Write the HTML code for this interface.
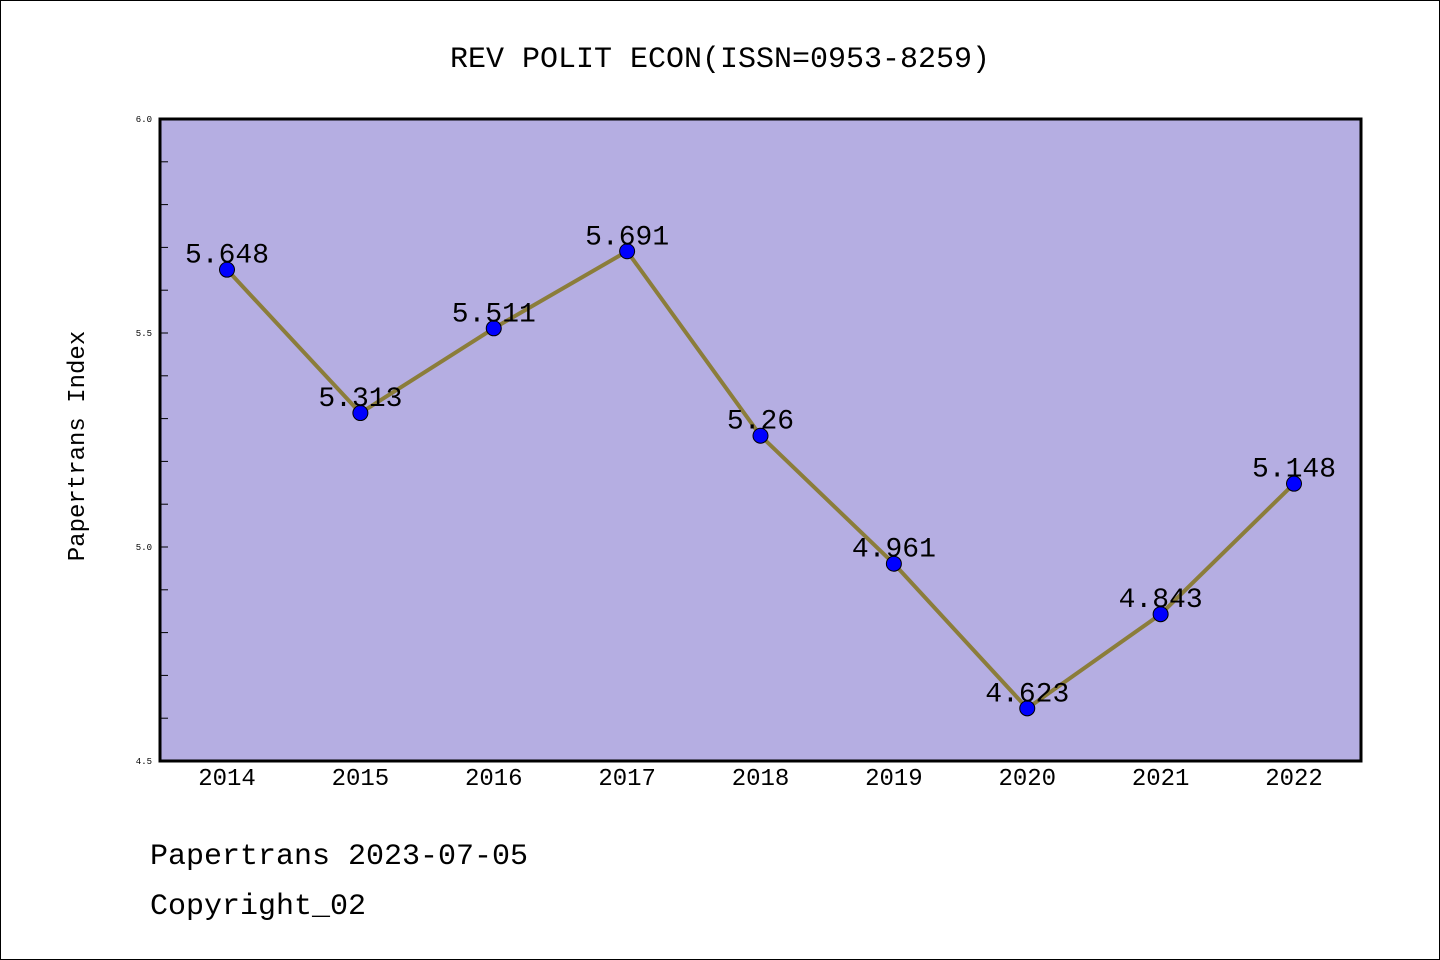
<!DOCTYPE html>
<html><head><meta charset="utf-8"><style>
body{margin:0;background:#fff;}
svg{display:block;font-family:"WenQuanYi Zen Hei Mono","WenQuanYi Zen Hei","Liberation Mono",monospace;}
</style></head><body>
<svg width="1440" height="960">
<rect x="0.5" y="0.5" width="1439" height="959" fill="#fff" stroke="#000"/>
<text x="720" y="67" text-anchor="middle" font-size="30">REV POLIT ECON(ISSN=0953-8259)</text>
<rect x="160" y="119" width="1201" height="642" fill="#b5aee2"/>
<g id="ticks"></g>
<g id="marks"></g>
<rect x="160" y="119" width="1201" height="642" fill="none" stroke="#000" stroke-width="3"/>
<text transform="translate(84,446) rotate(-90)" text-anchor="middle" font-size="24">Papertrans Index</text>
<text x="150" y="864" font-size="30">Papertrans 2023-07-05</text>
<text x="150" y="914" font-size="30">Copyright_02</text>
</svg>
<script>
const years=["2014","2015","2016","2017","2018","2019","2020","2021","2022"];
const values=[5.648,5.313,5.511,5.691,5.26,4.961,4.623,4.843,5.148];
const valueLabels=["5.648","5.313","5.511","5.691","5.26","4.961","4.623","4.843","5.148"];
const yTickLabels=["4.5","5.0","5.5","6.0"];
const NS="http://www.w3.org/2000/svg";
const yMin=4.5,yMax=6.0,plotTop=119,plotBot=761;
function y(v){return plotBot-(v-yMin)/(yMax-yMin)*(plotBot-plotTop);}
function x(i){return 227+i*(1294-227)/(years.length-1);}
function mk(t,a,p){const e=document.createElementNS(NS,t);for(const k in a)e.setAttribute(k,a[k]);p.appendChild(e);return e;}
const tg=document.getElementById('ticks'),mg=document.getElementById('marks');
for(let k=0;k<=15;k++){const v=yMin+k*0.1;const yy=y(v);
 const t=mk('line',{x1:160,x2:168,y1:yy,y2:yy,stroke:'#000','stroke-width':1},tg);
 
 }
yTickLabels.forEach(s=>{const t=mk('text',{x:152,y:y(parseFloat(s))+3,'text-anchor':'end','font-size':9},tg);t.textContent=s;
 
 });
years.forEach((s,i)=>{const t=mk('text',{x:x(i),y:785,'text-anchor':'middle','font-size':24},tg);t.textContent=s;
 
 });
const pl=mk('polyline',{points:values.map((v,i)=>x(i)+','+y(v)).join(' '),fill:'none',stroke:'#8b7d3a','stroke-width':4},mg);


values.forEach((v,i)=>{const c=mk('circle',{cx:x(i),cy:y(v),r:7.5,fill:'#0000ff',stroke:'#000','stroke-width':1},mg);
 
 
 const t=mk('text',{x:x(i),y:y(v)-7,'text-anchor':'middle','font-size':28},mg);t.textContent=valueLabels[i];
 
 });
</script>
</body></html>
